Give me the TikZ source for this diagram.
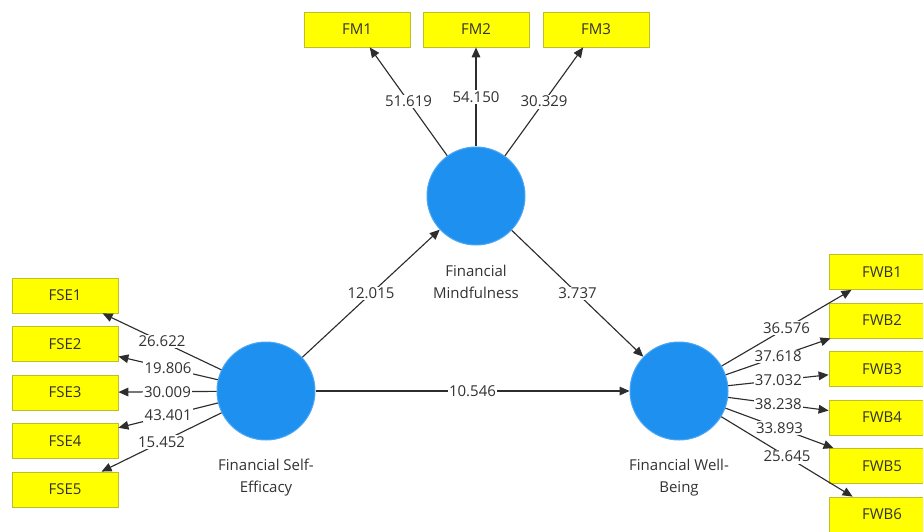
\documentclass[tikz,border=0pt]{standalone}
\usepackage{fontspec}
\setmainfont{Open Sans}
\usetikzlibrary{arrows.meta}

\definecolor{lvblue}{RGB}{30,144,240}
\definecolor{mvyellow}{RGB}{255,255,0}
\definecolor{mvedge}{RGB}{190,190,40}
\definecolor{txtgray}{RGB}{50,50,50}
\definecolor{linegray}{RGB}{45,45,45}

\begin{document}
\begin{tikzpicture}[x=0.75pt,y=0.75pt,yscale=-1,xscale=1,
	every node/.style={font=\fontsize{11.25}{16.5}\selectfont, text=txtgray},
	lv/.style={circle, fill=lvblue, draw=lvblue!80!white, line width=0.75pt, minimum size=73.5pt, inner sep=0pt},
	mv/.style={rectangle, fill=mvyellow, draw=mvedge, line width=0.6pt, minimum width=79.5pt, minimum height=26.25pt, inner sep=0pt},
	lvname/.style={align=center},
	arr/.style={draw=linegray, line width=0.85pt, -{Triangle[length=7.5pt,width=6.5pt]}},
	coef/.style={fill=white, inner sep=1pt}]
	\path [use as bounding box, clip] (0,0) rectangle (923,531);
	% latent variables
	\draw (266,391) node [lv] (fse) {};
	\draw (476,196) node [lv] (fm) {};
	\draw (679,391) node [lv] (fwb) {};
	\draw (266,478) node [lvname] (fse_name) {Financial Self-\\Efficacy};
	\draw (476,281.5) node [lvname] (fm_name) {Financial\\Mindfulness};
	\draw (679,478) node [lvname] (fwb_name) {Financial Well-\\Being};
	% indicators
	\draw (357,29.5) node [mv] (fm1) {FM1};
	\draw (476,29.5) node [mv] (fm2) {FM2};
	\draw (596,29.5) node [mv] (fm3) {FM3};
	\draw (65,295.5) node [mv] (fse1) {FSE1};
	\draw (65,344) node [mv] (fse2) {FSE2};
	\draw (65,392.5) node [mv] (fse3) {FSE3};
	\draw (65,441) node [mv] (fse4) {FSE4};
	\draw (65,489.5) node [mv] (fse5) {FSE5};
	\draw (882,272) node [mv] (fwb1) {FWB1};
	\draw (882,320.5) node [mv] (fwb2) {FWB2};
	\draw (882,369) node [mv] (fwb3) {FWB3};
	\draw (882,417.5) node [mv] (fwb4) {FWB4};
	\draw (882,466) node [mv] (fwb5) {FWB5};
	\draw (882,514.5) node [mv] (fwb6) {FWB6};
	% inner model
	\draw [arr] (fse) -- node [coef] {12.015} (fm);
	\draw [arr] (fm) -- node [coef] {3.737} (fwb);
	\draw [arr] (fse) -- node [coef] {10.546} (fwb);
	% outer model
	\draw [arr] (fm) -- node [coef] {51.619} (fm1);
	\draw [arr] (fm) -- node [coef] {54.150} (fm2);
	\draw [arr] (fm) -- node [coef] {30.329} (fm3);
	\draw [arr] (fse) -- node [coef] {26.622} (fse1);
	\draw [arr] (fse) -- node [coef] {19.806} (fse2);
	\draw [arr] (fse) -- node [coef] {30.009} (fse3);
	\draw [arr] (fse) -- node [coef] {43.401} (fse4);
	\draw [arr] (fse) -- node [coef] {15.452} (fse5);
	\draw [arr] (fwb) -- node [coef] {36.576} (fwb1);
	\draw [arr] (fwb) -- node [coef] {37.618} (fwb2);
	\draw [arr] (fwb) -- node [coef] {37.032} (fwb3);
	\draw [arr] (fwb) -- node [coef] {38.238} (fwb4);
	\draw [arr] (fwb) -- node [coef] {33.893} (fwb5);
	\draw [arr] (fwb) -- node [coef] {25.645} (fwb6);
\end{tikzpicture}
\end{document}
